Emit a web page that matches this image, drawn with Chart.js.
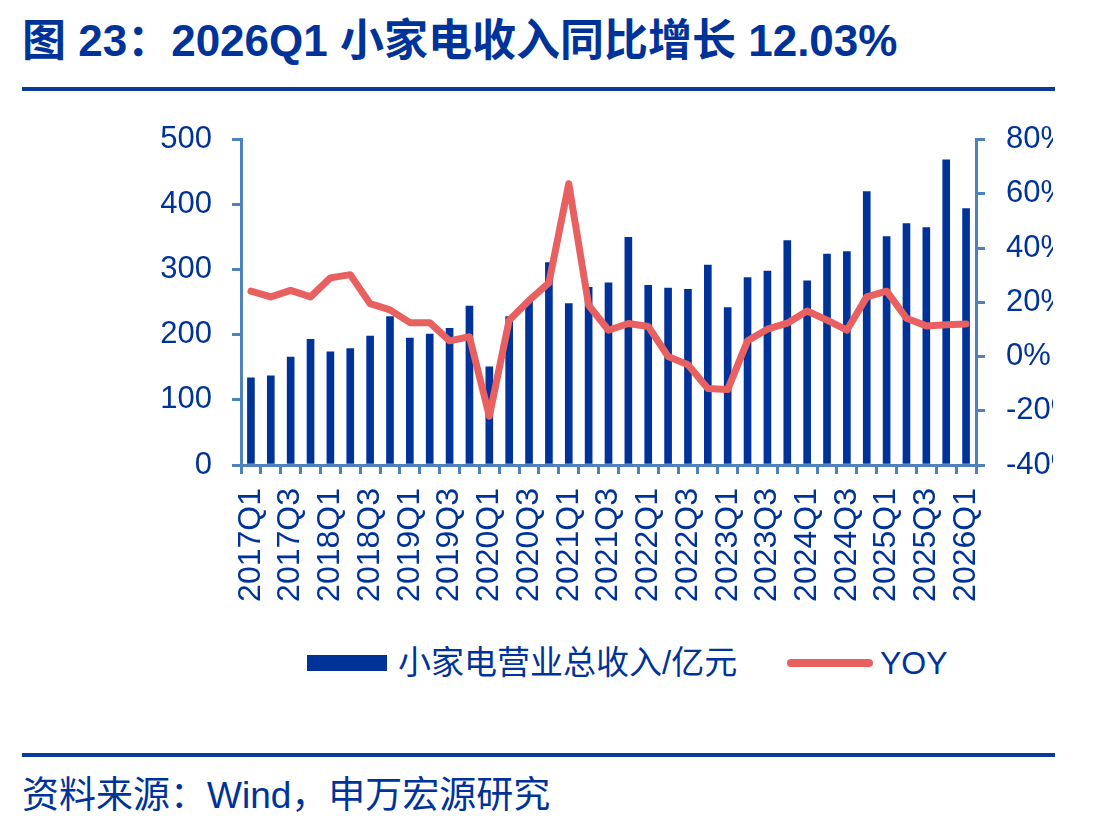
<!DOCTYPE html>
<html>
<head>
<meta charset="utf-8">
<script src="https://cdn.jsdelivr.net/npm/chart.js"></script>
<style>
  body { margin: 0; background: #fff; width: 1113px; height: 830px; position: relative; overflow: hidden;
         font-family: "Liberation Sans", "Noto Sans CJK SC", Arial, sans-serif; color: #00339a; }
  .title { position: absolute; left: 22px; top: 5px; font-size: 44px; font-weight: bold; white-space: nowrap; }
  .rule { position: absolute; left: 22px; width: 1033px; height: 4px; background: #0b3a9a; }
  #wrap { position: absolute; left: 0; top: 100px; }
  .leg { position: absolute; font-size: 33px; line-height: 34px; white-space: nowrap; }
  .source { position: absolute; left: 22px; top: 776px; font-size: 37px; line-height: 40px; white-space: nowrap; }
</style>
</head>
<body>
<div class="title">图 23：2026Q1 小家电收入同比增长 12.03%</div>
<div class="rule" style="top:87px"></div>

<div id="wrap"><canvas id="chart" width="1053" height="505"></canvas></div>

<div style="position:absolute;left:307px;top:655px;width:80px;height:16px;background:#003399"></div>
<div class="leg" style="left:398px;top:646px">小家电营业总收入/亿元</div>
<div style="position:absolute;left:787px;top:659px;width:86px;height:8px;border-radius:4px;background:#e8605f"></div>
<div class="leg" style="left:880px;top:646px;font-size:32px">YOY</div>

<div class="rule" style="top:753px"></div>
<div class="source">资料来源：Wind，申万宏源研究</div>

<script>
// 季度
const quarters = [
  '2017Q1','2017Q2','2017Q3','2017Q4','2018Q1','2018Q2','2018Q3','2018Q4',
  '2019Q1','2019Q2','2019Q3','2019Q4','2020Q1','2020Q2','2020Q3','2020Q4',
  '2021Q1','2021Q2','2021Q3','2021Q4','2022Q1','2022Q2','2022Q3','2022Q4',
  '2023Q1','2023Q2','2023Q3','2023Q4','2024Q1','2024Q2','2024Q3','2024Q4',
  '2025Q1','2025Q2','2025Q3','2025Q4','2026Q1'
];
// 小家电营业总收入/亿元
const revenue = [
  134, 137, 166, 193, 174, 179, 198, 228,
  195, 201, 210, 244, 151, 228, 252, 311,
  248, 273, 280, 350, 276, 272, 270, 307,
  242, 288, 298, 345, 283, 324, 328, 420,
  351, 371, 365, 469, 394
];
// YOY (%)
const yoy = [
  24.1, 22.0, 24.4, 22.0, 29.0, 30.2, 19.5, 17.2,
  12.5, 12.5, 5.8, 7.3, -22.0, 13.4, 20.7, 27.2,
  63.7, 18.9, 9.7, 12.2, 11.1, 0.0, -3.0, -11.8,
  -12.2, 5.8, 10.1, 12.3, 16.8, 13.4, 9.7, 22.0,
  24.1, 14.1, 11.3, 11.7, 12.03
];
const leftTicks = [0, 500, 100];
const rightTicks = [-40, 80, 20];

const blue = '#003399';
const red = '#e8605f';
const axisColor = '#4f81bd';
const font = '"Liberation Sans", Arial, sans-serif';

const ctx = document.getElementById('chart').getContext('2d');
new Chart(ctx, {
  data: {
    labels: quarters,
    datasets: [{
      type: 'line',
      label: 'YOY',
      data: yoy,
      yAxisID: 'y1',
      borderColor: red,
      borderWidth: 7,
      pointRadius: 0,
      tension: 0,
      borderJoinStyle: 'round',
      borderCapStyle: 'round',
      order: 0
    }, {
      type: 'bar',
      label: '小家电营业总收入/亿元',
      data: revenue,
      yAxisID: 'y',
      backgroundColor: blue,
      barThickness: 7,
      order: 1
    }]
  },
  options: {
    responsive: false,
    animation: false,
    layout: { padding: { top: 37, left: 0, right: 0, bottom: 0 } },
    plugins: { legend: { display: false }, tooltip: { enabled: false } },
    scales: {
      x: {
        grid: { drawOnChartArea: false, offset: true, color: axisColor, lineWidth: 3, tickLength: 9 },
        border: { color: axisColor, width: 3 },
        ticks: {
          autoSkip: false, minRotation: 90, maxRotation: 90, padding: 14,
          color: blue, font: { family: font, size: 32 },
          callback: function (v, i) { return i % 2 === 0 ? quarters[i] : ''; }
        },
        afterFit: function (s) { s.height = 140; }
      },
      y: {
        position: 'left',
        min: leftTicks[0], max: leftTicks[1],
        grid: { drawOnChartArea: false, color: axisColor, lineWidth: 3, tickLength: 9 },
        border: { color: axisColor, width: 3 },
        ticks: { stepSize: leftTicks[2], color: blue, font: { family: font, size: 31 }, padding: 20 },
        afterFit: function (s) { s.width = 241; }
      },
      y1: {
        position: 'right',
        min: rightTicks[0], max: rightTicks[1],
        grid: { drawOnChartArea: false, color: axisColor, lineWidth: 3, tickLength: 9 },
        border: { color: axisColor, width: 3 },
        ticks: {
          stepSize: rightTicks[2], color: blue, font: { family: font, size: 31 }, padding: 21,
          callback: function (v) { return v + '%'; }
        },
        afterFit: function (s) { s.width = 77; }
      }
    }
  }
});
</script>
</body>
</html>
